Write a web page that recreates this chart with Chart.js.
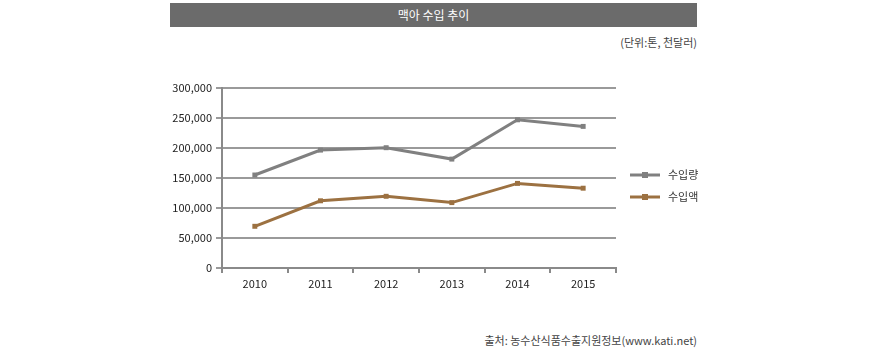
<!DOCTYPE html>
<html><head><meta charset="utf-8">
<script src="https://cdn.jsdelivr.net/npm/chart.js@4/dist/chart.umd.min.js"></script>
<style>
html,body{margin:0;padding:0;background:#fff;}
body{width:879px;height:356px;position:relative;overflow:hidden;font-family:"Noto Sans CJK KR","Noto Sans",sans-serif;}
#title{position:absolute;left:170px;top:3px;width:527px;height:24px;background:#6b6b6b;color:#fff;font-size:12px;line-height:24px;text-align:center;}
#unit{position:absolute;right:182px;top:34px;font-size:11px;color:#444;}
#src{position:absolute;right:182px;top:332px;font-size:11px;color:#444;}
canvas{position:absolute;left:0;top:0;}
</style></head>
<body>
<div id="title">맥아 수입 추이</div>
<div id="unit">(단위:톤, 천달러)</div>
<div id="src">출처: 농수산식품수출지원정보(www.kati.net)</div>
<canvas id="c" width="879" height="356"></canvas>
<script>
const categories = ['2010','2011','2012','2013','2014','2015'];
const seriesNames = ['수입량','수입액'];
const importVolume = [155000, 196500, 200500, 181500, 247000, 236000];
const importValue = [69500, 112000, 119500, 109000, 141000, 133000];
const yTicks = [0, 50000, 100000, 150000, 200000, 250000, 300000];
const colors = ['#808080', '#9c7141'];

const legendPlugin = {
  id: 'customLegend',
  afterDraw(chart) {
    const ctx = chart.ctx;
    const x0 = 630, ys = [175, 197];
    chart.data.datasets.forEach((ds, i) => {
      const y = ys[i];
      ctx.save();
      ctx.strokeStyle = ds.borderColor;
      ctx.lineWidth = 3;
      ctx.beginPath(); ctx.moveTo(x0, y); ctx.lineTo(x0 + 30, y); ctx.stroke();
      ctx.fillStyle = ds.borderColor;
      ctx.fillRect(x0 + 12, y - 3, 6, 6);
      ctx.fillStyle = '#333';
      ctx.font = '11px "Noto Sans CJK KR"';
      ctx.textBaseline = 'middle';
      ctx.fillText(ds.label, x0 + 38, y);
      ctx.restore();
    });
  }
};

new Chart(document.getElementById('c'), {
  type: 'line',
  data: {
    labels: categories,
    datasets: [
      {label: seriesNames[0], data: importVolume, borderColor: colors[0], backgroundColor: colors[0], borderWidth: 3, pointStyle: 'rect', pointRadius: 3.5, pointBorderWidth: 0, tension: 0},
      {label: seriesNames[1], data: importValue, borderColor: colors[1], backgroundColor: colors[1], borderWidth: 3, pointStyle: 'rect', pointRadius: 3.5, pointBorderWidth: 0, tension: 0}
    ]
  },
  options: {
    responsive: false,
    animation: false,
    layout: {padding: {left: 170, right: 263, top: 88, bottom: 58}},
    plugins: {legend: {display: false}, tooltip: {enabled: false}},
    scales: {
      x: {
        offset: true,
        grid: {offset: true, drawOnChartArea: false, drawTicks: true, tickLength: 5, color: '#8a8a8a', lineWidth: 2},
        border: {color: '#8a8a8a', width: 2},
        ticks: {color: '#222', font: {family: '"Noto Sans CJK KR"', size: 11}, padding: 4, maxRotation: 0},
        afterFit(s) { s.height = 30; }
      },
      y: {
        min: 0, max: 300000,
        afterBuildTicks(s) { s.ticks = yTicks.map(v => ({value: v})); },
        grid: {color: '#9a9a9a', lineWidth: 2, drawTicks: true, tickLength: 6},
        border: {color: '#8a8a8a', width: 2},
        ticks: {color: '#222', font: {family: '"Noto Sans CJK KR"', size: 11}, padding: 4,
          callback: v => v.toLocaleString('en-US')},
        afterFit(s) { s.width = 52; }
      }
    }
  },
  plugins: [legendPlugin]
});
</script>
</body></html>
